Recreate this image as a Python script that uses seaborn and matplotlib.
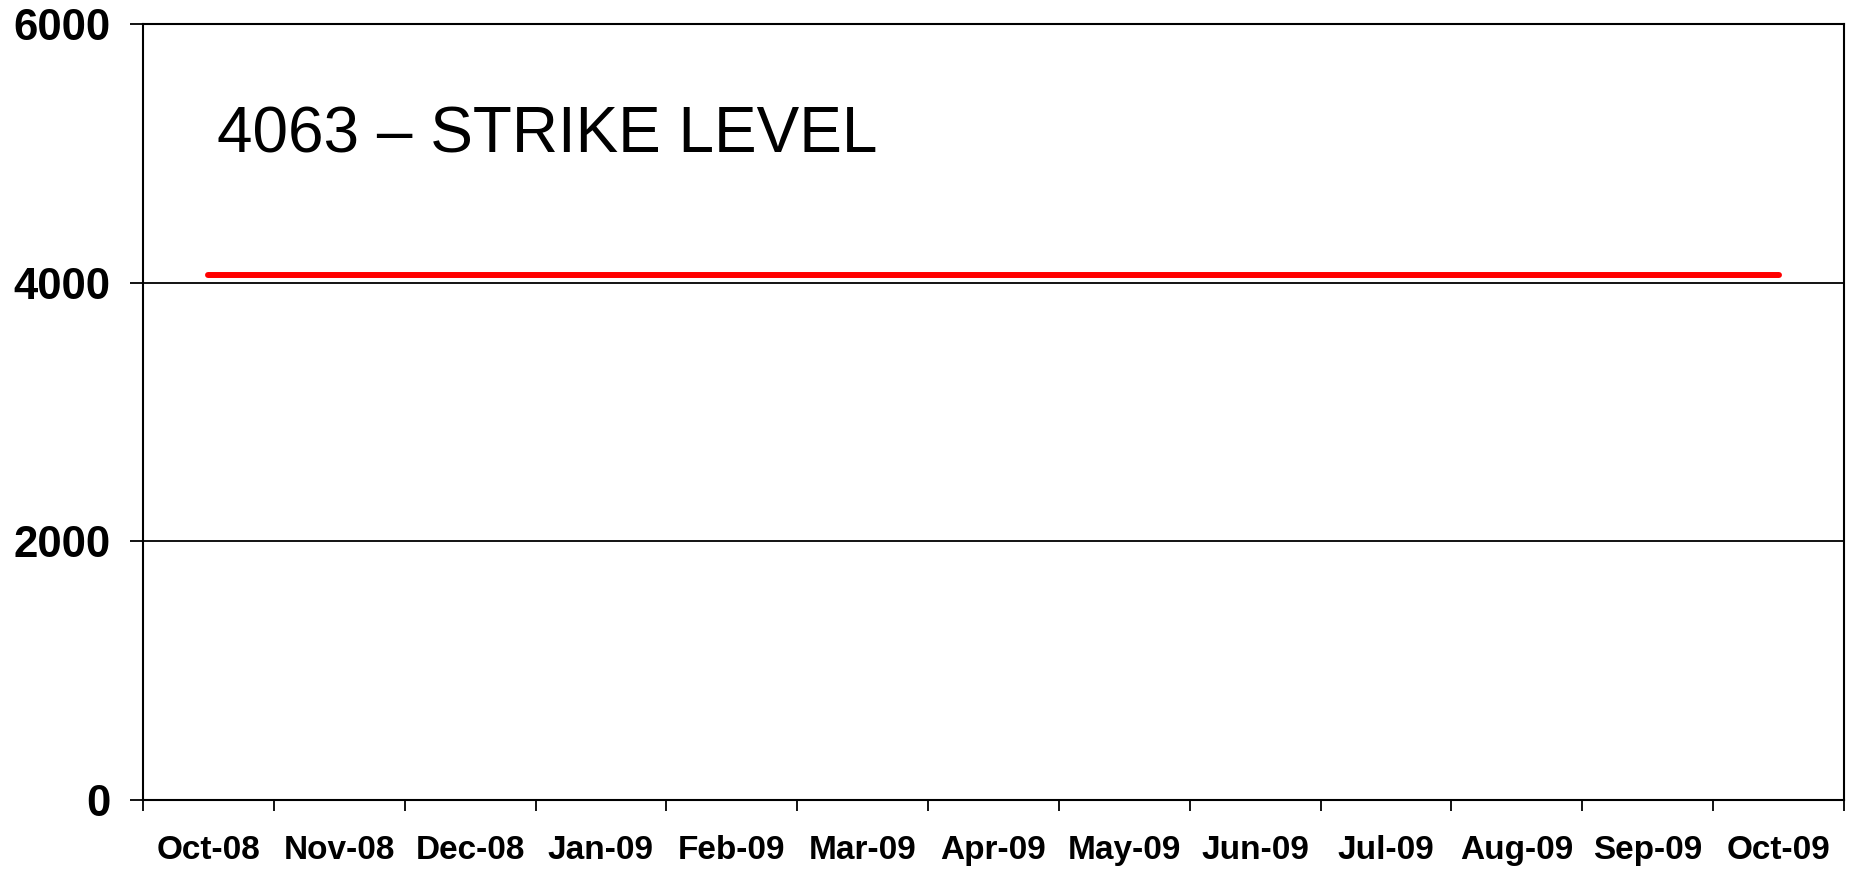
import numpy as np
import pandas as pd
import seaborn as sns
import matplotlib.pyplot as plt

# data
months = ["Oct-08", "Nov-08", "Dec-08", "Jan-09", "Feb-09", "Mar-09", "Apr-09",
          "May-09", "Jun-09", "Jul-09", "Aug-09", "Sep-09", "Oct-09"]
strike = [4063] * len(months)
y_ticks = [0, 2000, 4000, 6000]
label_text = "4063 \u2013 STRIKE LEVEL"

sns.set_theme(style="white")
plt.rcParams['font.family'] = ['Liberation Sans', 'DejaVu Sans']

df = pd.DataFrame({"month": months, "strike": strike})

fig = plt.figure(figsize=(18.51, 8.74), dpi=100)
ax = fig.add_axes([143 / 1851, 1 - 800 / 874, (1844 - 143) / 1851, (800 - 24) / 874])

sns.lineplot(data=df, x="month", y="strike", color="#ff0000", linewidth=4.3,
             solid_capstyle="round", ax=ax, sort=False)

ax.set_xlim(-0.5, len(months) - 0.5)
ax.set_ylim(0, 6000)
ax.set_xlabel("")
ax.set_ylabel("")

# month boundaries as major ticks, labels centred on minor ticks
ax.set_xticks(np.arange(-0.5, len(months), 1.0))
ax.set_xticklabels([])
ax.set_xticks(np.arange(len(months)), minor=True)
ax.set_xticklabels(months, minor=True, fontsize=24, fontweight="bold")
ax.tick_params(axis="x", which="major", direction="out", length=8, width=1.3,
               color="black", bottom=True)
ax.tick_params(axis="x", which="minor", length=0, pad=25, labelcolor="black")

ax.set_yticks(y_ticks)
ax.set_yticklabels([str(v) for v in y_ticks], fontsize=31.5, fontweight="bold")
ax.tick_params(axis="y", direction="out", length=9.4, width=1.3, color="black",
               left=True, pad=14, labelcolor="black")

ax.yaxis.grid(True, color="black", linewidth=1.3)
ax.xaxis.grid(False)
for s in ax.spines.values():
    s.set_color("black")
    s.set_linewidth(1.5)

ax.text(0.066, 5003, label_text, fontsize=46, va="baseline", ha="left", color="black")

fig.savefig("out.png", dpi=100, facecolor="white")
